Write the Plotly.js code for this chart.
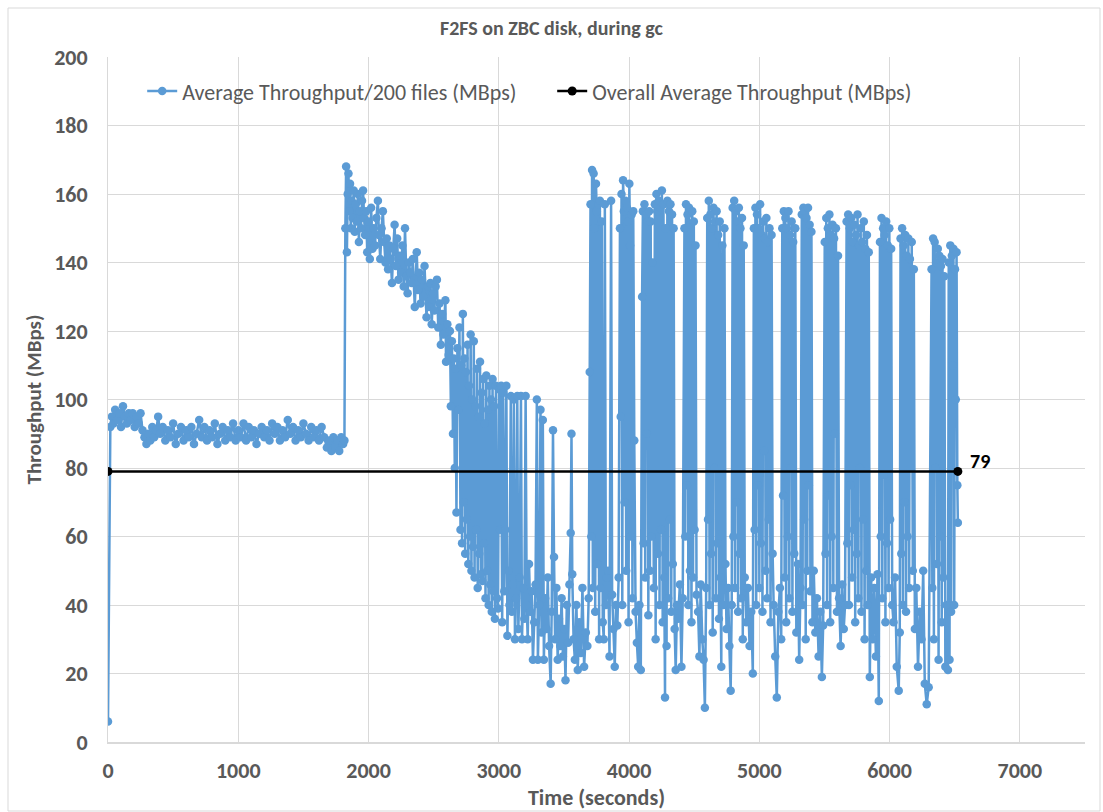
<!DOCTYPE html>
<html>
<head>
<meta charset="utf-8">
<script src="https://cdn.plot.ly/plotly-3.0.1.min.js"></script>
<style>html,body{margin:0;padding:0;background:#fff;}#chart{width:1103px;height:812px;}</style>
</head>
<body>
<div id="chart"></div>
<script>
// ---- Data: [time (s), average throughput per 200 files (MBps)] ----
const steadyPhase = [[0,6],[18,92],[30,95],[42,93],[55,97],[70,94],[85,96],[100,92],[115,98],[130,95],[145,93],[160,96],[175,94],[190,96],[205,92],[220,95],[235,93],[250,96],[265,91],[280,89],[295,87],[310,90],[325,88],[340,92],[355,89],[370,91],[385,95],[400,90],[420,92],[440,88],[460,91],[480,89],[500,93],[520,87],[540,90],[560,92],[580,88],[600,91],[620,89],[640,92],[660,87],[680,90],[700,94],[720,89],[740,92],[760,88],[780,91],[800,89],[820,93],[840,87],[860,90],[880,92],[900,88],[920,91],[940,89],[960,93],[980,88],[1000,91],[1020,89],[1040,93],[1060,88],[1080,92],[1100,89],[1120,91],[1140,87],[1160,90],[1180,92],[1200,89],[1220,91],[1240,88],[1260,93],[1280,90],[1300,92],[1320,88],[1340,91],[1360,89],[1380,94],[1400,90],[1420,92],[1440,88],[1460,91],[1480,89],[1500,93],[1520,90],[1540,88],[1560,92],[1580,89],[1600,91],[1620,88],[1640,92],[1660,89],[1680,86],[1700,88],[1715,85],[1730,89],[1745,86],[1760,88],[1775,85],[1790,89],[1805,87],[1815,88]];

const declinePhase = [[1822,150],[1828,168],[1834,143],[1840,160],[1846,166],[1852,155],[1858,163],[1864,150],[1870,158],[1878,153],[1886,161],[1894,149],[1902,157],[1910,152],[1918,160],[1926,146],[1934,155],[1942,150],[1950,158],[1958,161],[1966,153],[1974,148],[1982,155],[1990,143],[2000,152],[2010,141],[2020,156],[2030,144],[2040,150],[2050,145],[2060,153],[2072,158],[2080,148],[2090,141],[2100,150],[2110,155],[2120,146],[2130,140],[2140,147],[2150,138],[2160,145],[2170,141],[2180,134],[2190,144],[2200,151],[2210,139],[2220,147],[2230,135],[2240,142],[2250,137],[2260,145],[2270,133],[2280,150],[2290,136],[2300,131],[2310,140],[2320,137],[2330,134],[2340,141],[2355,127],[2370,143],[2380,132],[2390,137],[2400,128],[2410,135],[2420,130],[2430,139],[2445,124],[2455,133],[2465,127],[2475,134],[2485,122],[2495,131],[2505,126],[2515,133],[2525,135],[2535,121],[2545,128],[2555,116],[2565,125],[2575,119],[2590,129],[2595,111],[2605,122],[2615,113],[2625,120],[2632,98],[2640,117],[2648,90],[2655,112],[2662,80],[2668,109],[2675,67],[2682,115],[2690,97],[2698,121]];

const transitionPhase = [[2706,62],[2712,110],[2718,58],[2724,125],[2730,70],[2736,112],[2742,55],[2748,108],[2754,65],[2760,116],[2766,52],[2772,104],[2778,60],[2784,119],[2790,50],[2796,100],[2802,57],[2808,117],[2814,48],[2820,98],[2826,62],[2832,109],[2838,45],[2844,95],[2850,55],[2856,111],[2862,49],[2868,102],[2874,47],[2880,106],[2886,58],[2892,93],[2898,42],[2904,107],[2910,50],[2916,97],[2922,40],[2928,104],[2934,46],[2940,100],[2946,38],[2952,106],[2958,44],[2964,98],[2970,36],[2978,104],[2986,42],[2994,39],[3002,103],[3010,62],[3018,104],[3026,35],[3034,102],[3042,44],[3050,62],[3058,104],[3066,31],[3074,50],[3082,40],[3092,101],[3100,38],[3108,46],[3116,100],[3124,30],[3132,42],[3142,101],[3150,33],[3160,48],[3170,101],[3178,30],[3188,45],[3196,36],[3206,101],[3214,40],[3222,30],[3232,52],[3242,38],[3252,44],[3262,24],[3272,35],[3282,46],[3292,100],[3300,24],[3310,40],[3320,97],[3328,32],[3338,94],[3346,24],[3356,42],[3366,33],[3376,48],[3386,28],[3398,17],[3406,38],[3416,91],[3424,54],[3432,30],[3442,45],[3452,24],[3462,36],[3472,28],[3482,42],[3492,25],[3502,33],[3512,18],[3522,40],[3532,29],[3542,46],[3552,61],[3558,90],[3564,49],[3574,30],[3584,24],[3596,40],[3606,21],[3618,35],[3630,26],[3642,45],[3655,22],[3668,32],[3680,28],[3690,42]];

const gcBurstPhaseA = [[3698,108],[3704,157],[3710,60],[3716,167],[3722,45],[3728,166],[3734,150],[3740,38],[3746,163],[3752,155],[3758,52],[3764,157],[3770,30],[3776,158],[3782,45],[3790,152],[3798,35],[3806,30],[3814,157],[3822,40],[3830,48],[3840,50],[3850,25],[3862,158],[3870,43],[3880,33],[3890,22],[3900,40],[3910,34],[3920,48],[3930,150],[3936,95],[3942,160],[3948,40],[3954,164],[3960,155],[3966,70],[3972,158],[3978,50],[3984,156],[3990,152],[3996,35],[4002,163],[4008,145],[4014,60],[4020,154],[4026,42],[4032,155],[4040,88],[4050,38],[4060,29],[4070,22],[4080,40],[4090,21],[4100,130],[4106,155],[4112,58],[4118,157],[4124,48],[4130,154],[4136,90],[4142,152],[4148,37],[4154,155],[4160,50],[4166,152],[4172,60],[4180,140],[4190,45],[4198,157],[4204,30],[4210,160],[4216,155],[4222,55],[4228,158],[4234,40],[4240,156],[4246,62],[4252,161],[4258,35],[4264,157],[4270,48],[4276,13],[4282,150],[4288,28],[4294,158],[4300,42],[4306,155],[4312,65],[4318,157],[4324,38],[4330,154],[4336,52],[4342,150],[4350,33],[4358,21],[4368,40],[4376,36],[4390,46],[4402,22],[4412,42],[4425,150],[4431,60],[4437,157],[4443,75],[4449,154],[4455,40],[4461,156],[4467,50],[4473,151],[4479,35],[4485,155],[4491,48],[4497,152],[4503,62],[4510,145],[4518,43],[4530,38],[4540,25],[4550,46],[4562,30],[4572,24],[4582,10],[4592,45]];

const gcBurstPhaseB = [[4600,153],[4606,65],[4612,158],[4618,40],[4624,154],[4630,55],[4636,150],[4642,32],[4648,156],[4654,80],[4660,152],[4666,42],[4672,155],[4678,58],[4684,148],[4690,36],[4696,152],[4702,48],[4708,22],[4716,145],[4724,40],[4732,150],[4740,52],[4748,33],[4760,45],[4770,28],[4780,15],[4788,40],[4795,156],[4801,60],[4807,158],[4813,45],[4819,155],[4825,70],[4831,152],[4837,38],[4843,156],[4849,55],[4855,150],[4861,42],[4867,153],[4873,30],[4880,145],[4888,48],[4900,35],[4912,45],[4925,28],[4938,38],[4950,20],[4958,150],[4964,62],[4970,156],[4976,40],[4982,154],[4988,75],[4994,150],[5000,45],[5006,157],[5012,58],[5018,148],[5024,38],[5030,152],[5036,85],[5042,147],[5048,50],[5054,153],[5060,42],[5066,146],[5072,65],[5078,150],[5086,35],[5094,148],[5102,55],[5110,40],[5122,25],[5134,13],[5146,38],[5158,45],[5168,30],[5176,150],[5182,72],[5188,155],[5194,48],[5200,153],[5206,35],[5212,150],[5218,60],[5224,155],[5230,42],[5236,148],[5242,80],[5248,152],[5254,38],[5260,146],[5268,55],[5276,150],[5284,32],[5296,52],[5306,24],[5316,45],[5326,154],[5332,40],[5338,156],[5344,65],[5350,155],[5356,30],[5362,153],[5368,50],[5374,156],[5380,75],[5386,151],[5392,44],[5400,149],[5408,35],[5418,50],[5430,32],[5442,42],[5455,25],[5468,38],[5480,19],[5490,34]];

const gcBurstPhaseC = [[5502,146],[5508,55],[5514,153],[5520,40],[5526,150],[5532,72],[5538,154],[5544,35],[5550,148],[5556,60],[5562,151],[5568,45],[5574,147],[5580,90],[5588,150],[5596,38],[5604,142],[5612,42],[5624,28],[5636,46],[5648,33],[5658,40],[5670,152],[5676,58],[5682,154],[5688,40],[5694,150],[5700,75],[5706,153],[5712,48],[5718,146],[5724,62],[5730,151],[5736,35],[5742,148],[5748,55],[5754,154],[5760,42],[5766,145],[5772,80],[5778,150],[5784,38],[5790,146],[5796,65],[5802,152],[5808,30],[5814,144],[5820,50],[5826,148],[5832,40],[5840,143],[5848,19],[5858,48],[5870,30],[5882,45],[5895,25],[5907,49],[5917,12],[5926,146],[5932,60],[5938,153],[5944,42],[5950,150],[5956,78],[5962,148],[5968,35],[5974,152],[5980,58],[5986,145],[5992,45],[5998,150],[6004,65],[6012,144],[6020,40],[6030,35],[6042,48],[6055,22],[6070,15],[6078,32],[6084,147],[6090,55],[6096,150],[6102,40],[6108,145],[6114,70],[6120,148],[6126,38],[6132,142],[6138,60],[6144,147],[6150,45],[6156,141],[6162,80],[6170,146],[6178,50],[6186,138],[6194,33],[6205,45],[6218,22],[6232,38],[6245,30],[6258,50],[6270,17],[6285,11],[6300,16],[6322,138],[6328,45],[6334,147],[6340,30],[6346,146],[6352,80],[6358,140],[6364,52],[6370,144],[6376,24],[6382,142],[6388,60],[6394,139],[6400,35],[6406,141],[6412,48],[6420,136],[6428,22],[6436,40],[6448,21],[6454,140],[6460,24],[6466,145],[6472,38],[6478,142],[6484,110],[6490,144],[6496,40],[6502,138],[6508,100],[6514,143],[6520,75],[6524,64]];

// Overall average throughput (MBps): start and end of run
const overallTime = [0, 6524];
const overallMBps = [79, 79];

const seriesNames = ['Average Throughput/200 files (MBps)', 'Overall Average Throughput (MBps)'];
const chartTitle = 'F2FS on ZBC disk, during gc';
const xAxisTitle = 'Time (seconds)';
const yAxisTitle = 'Throughput (MBps)';

const allPoints = steadyPhase.concat(declinePhase, transitionPhase, gcBurstPhaseA, gcBurstPhaseB, gcBurstPhaseC);
const timeSec = allPoints.map(p => p[0]);
const throughput = allPoints.map(p => p[1]);

const FONT = 'Carlito, "Liberation Sans", Arial, sans-serif';
const GRAY = '#595959';
const GRID = '#d9d9d9';

const traces = [
  {
    x: timeSec, y: throughput, type: 'scatter', mode: 'lines+markers',
    name: seriesNames[0],
    line: {color: '#5b9bd5', width: 2.5, simplify: false},
    marker: {color: '#5b9bd5', size: 8.5}
  },
  {
    x: overallTime, y: overallMBps, type: 'scatter', mode: 'lines+markers',
    name: seriesNames[1],
    line: {color: '#000000', width: 2.5},
    marker: {color: '#000000', size: 9}
  }
];

const layout = {
  width: 1103, height: 812,
  margin: {l: 108, r: 18, t: 57, b: 70},
  paper_bgcolor: '#ffffff', plot_bgcolor: '#ffffff',
  font: {family: FONT, color: GRAY},
  title: {
    text: chartTitle, xref: 'container', x: 0.5, xanchor: 'center',
    yref: 'container', y: 1 - 28/812, yanchor: 'middle',
    font: {family: FONT, size: 20, color: GRAY, weight: 'bold'}
  },
  xaxis: {
    range: [0, 7500], tick0: 0, dtick: 1000,
    showgrid: true, gridcolor: GRID, gridwidth: 1,
    zeroline: false, showline: true, linecolor: GRID, linewidth: 1.5,
    ticks: '', ticklabelstandoff: 8,
    tickfont: {family: FONT, size: 22, color: GRAY, weight: 'bold'},
    title: {text: xAxisTitle, standoff: 6, font: {family: FONT, size: 22, color: GRAY, weight: 'bold'}}
  },
  yaxis: {
    range: [0, 200], tick0: 0, dtick: 20,
    showgrid: true, gridcolor: GRID, gridwidth: 1,
    zeroline: false, showline: true, linecolor: GRID, linewidth: 1,
    ticks: '', ticklabelstandoff: 15,
    tickfont: {family: FONT, size: 22, color: GRAY, weight: 'bold'},
    title: {text: yAxisTitle, standoff: 6, font: {family: FONT, size: 21, color: GRAY, weight: 'bold'}}
  },
  showlegend: true,
  legend: {
    orientation: 'h', x: 0.035, xanchor: 'left', y: 0.95, yanchor: 'middle',
    bgcolor: 'rgba(0,0,0,0)', font: {family: FONT, size: 22, color: GRAY},
    itemwidth: 30, traceorder: 'normal', entrywidth: 365, entrywidthmode: 'pixels'
  },
  annotations: [{
    x: overallTime[1], y: overallMBps[1], xref: 'x', yref: 'y',
    text: String(overallMBps[1]), showarrow: false,
    xanchor: 'left', yanchor: 'middle', xshift: 10, yshift: 10,
    font: {family: FONT, size: 20, color: '#000000', weight: 'bold'}
  }],
  shapes: [{
    type: 'rect', xref: 'paper', yref: 'paper', layer: 'below',
    x0: (8 - 108) / 977, x1: (1100 - 108) / 977,
    y0: (742 - 811) / 685, y1: (742 - 8) / 685,
    line: {color: GRID, width: 1}, fillcolor: 'rgba(0,0,0,0)'
  }]
};

Plotly.newPlot('chart', traces, layout, {displayModeBar: false, staticPlot: true});
</script>
</body>
</html>
